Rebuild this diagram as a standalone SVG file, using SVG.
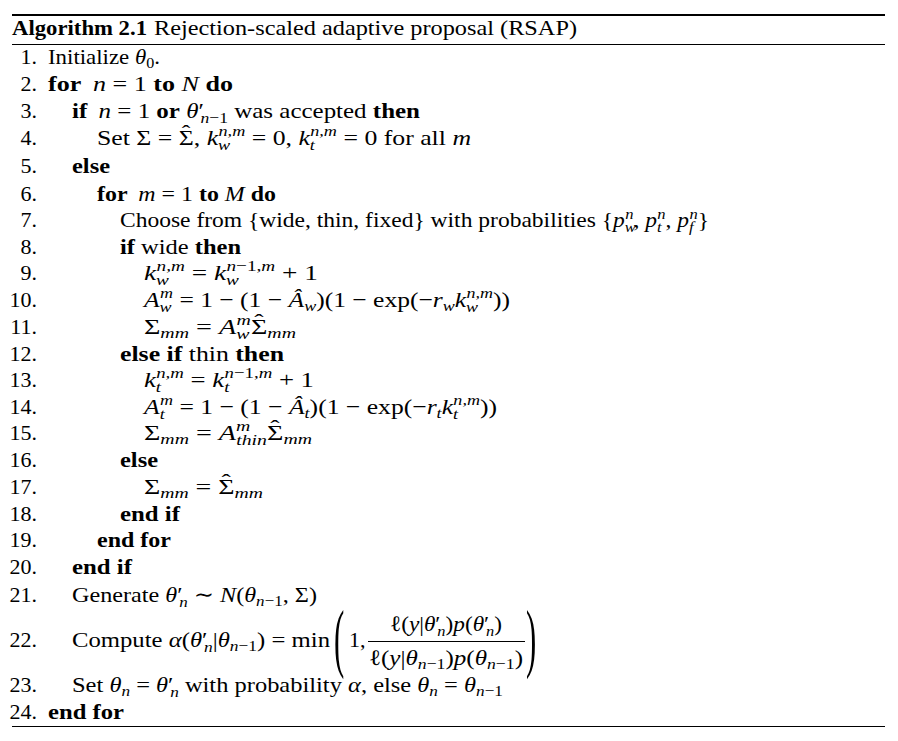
<svg xmlns="http://www.w3.org/2000/svg" width="898" height="741" viewBox="0 0 898 741">
<style>
text{font-family:"Liberation Serif","DejaVu Serif",serif;font-size:22px;fill:#000}
.n{text-anchor:end}
.b{font-weight:bold}
.i{font-style:italic}
.s{font-size:15.5px}
.rule{stroke:#000}
</style>
<rect width="898" height="741" fill="#fff"/>
<g id="rules">
<line class="rule" x1="12" y1="15" x2="885" y2="15" stroke-width="2"/>
<line class="rule" x1="12" y1="44.5" x2="885" y2="44.5" stroke-width="1"/>
<line class="rule" x1="12" y1="726.5" x2="885" y2="726.5" stroke-width="1"/>
</g>
<g id="title">
<text x="12" y="35" class="b" textLength="135" lengthAdjust="spacingAndGlyphs">Algorithm 2.1</text>
<text x="154" y="35" textLength="423" lengthAdjust="spacingAndGlyphs">Rejection-scaled adaptive proposal (RSAP)</text>
</g>
<g id="numbers">
<text class="n" x="37" y="63.5">1.</text>
<text class="n" x="37" y="90.5">2.</text>
<text class="n" x="37" y="117.5">3.</text>
<text class="n" x="37" y="145">4.</text>
<text class="n" x="37" y="173">5.</text>
<text class="n" x="37" y="200.5">6.</text>
<text class="n" x="37" y="227">7.</text>
<text class="n" x="37" y="253.5">8.</text>
<text class="n" x="37" y="280">9.</text>
<text class="n" x="37" y="307">10.</text>
<text class="n" x="37" y="334">11.</text>
<text class="n" x="37" y="360.5">12.</text>
<text class="n" x="37" y="387">13.</text>
<text class="n" x="37" y="413.5">14.</text>
<text class="n" x="37" y="440">15.</text>
<text class="n" x="37" y="467">16.</text>
<text class="n" x="37" y="493.5">17.</text>
<text class="n" x="37" y="520.5">18.</text>
<text class="n" x="37" y="547">19.</text>
<text class="n" x="37" y="574">20.</text>
<text class="n" x="37" y="601.5">21.</text>
<text class="n" x="37" y="646.5">22.</text>
<text class="n" x="37" y="692">23.</text>
<text class="n" x="37" y="718.5">24.</text>
</g>
<g id="lines">
<text id="l1" x="48" y="63.5" textLength="112" lengthAdjust="spacingAndGlyphs">Initialize <tspan class="i">θ</tspan><tspan class="s" baseline-shift="-4">0</tspan>.</text>
<text id="l2" x="48" y="90.5" textLength="185" lengthAdjust="spacingAndGlyphs"><tspan class="b">for</tspan><tspan class="i" dx="10">n</tspan> = 1 <tspan class="b">to</tspan> <tspan class="i">N</tspan> <tspan class="b">do</tspan></text>
<text id="l3" x="72" y="117.5" textLength="348" lengthAdjust="spacingAndGlyphs"><tspan class="b">if</tspan><tspan class="i" dx="10">n</tspan> = 1 <tspan class="b">or</tspan> <tspan class="i">θ</tspan>′<tspan class="s i" dx="-3" baseline-shift="-5">n</tspan><tspan class="s" baseline-shift="-5">−1</tspan> was accepted <tspan class="b">then</tspan></text>
<text id="l4" x="97" y="145" textLength="374" lengthAdjust="spacingAndGlyphs">Set Σ = Σ<tspan dx="-10.2" baseline-shift="5">ˆ</tspan><tspan dx="2.9">, </tspan><tspan class="i">k</tspan><tspan class="s i" baseline-shift="-5">w</tspan><tspan class="s i" dx="-10" baseline-shift="9">n,m</tspan> = 0, <tspan class="i">k</tspan><tspan class="s i" baseline-shift="-5">t</tspan><tspan class="s i" dx="-4" baseline-shift="9">n,m</tspan> = 0 for all <tspan class="i">m</tspan></text>
<text id="l5" x="72" y="173" class="b" textLength="38" lengthAdjust="spacingAndGlyphs">else</text>
<text id="l6" x="97" y="200.5" textLength="179" lengthAdjust="spacingAndGlyphs"><tspan class="b">for</tspan><tspan class="i" dx="10">m</tspan> = 1 <tspan class="b">to</tspan> <tspan class="i">M</tspan> <tspan class="b">do</tspan></text>
<text id="l7" x="120" y="227" textLength="589" lengthAdjust="spacingAndGlyphs">Choose from {wide, thin, fixed} with probabilities {<tspan class="i">p</tspan><tspan class="s i" baseline-shift="-5">w</tspan><tspan class="s i" dx="-10" baseline-shift="8">n</tspan>, <tspan class="i">p</tspan><tspan class="s i" baseline-shift="-5">t</tspan><tspan class="s i" dx="-4" baseline-shift="8">n</tspan>, <tspan class="i">p</tspan><tspan class="s i" baseline-shift="-5">f</tspan><tspan class="s i" dx="-4" baseline-shift="8">n</tspan>}</text>
<text id="l8" x="120" y="253.5" textLength="121" lengthAdjust="spacingAndGlyphs"><tspan class="b">if</tspan> wide <tspan class="b">then</tspan></text>
<text id="l9" x="144" y="280" textLength="174" lengthAdjust="spacingAndGlyphs"><tspan class="i">k</tspan><tspan class="s i" baseline-shift="-5">w</tspan><tspan class="s i" dx="-10" baseline-shift="9">n,m</tspan> = <tspan class="i">k</tspan><tspan class="s i" baseline-shift="-5">w</tspan><tspan class="s i" dx="-10" baseline-shift="9">n</tspan><tspan class="s" baseline-shift="9">−1,</tspan><tspan class="s i" baseline-shift="9">m</tspan> + 1</text>
<text id="l10" x="144" y="307" textLength="366" lengthAdjust="spacingAndGlyphs"><tspan class="i">A</tspan><tspan class="s i" baseline-shift="-5">w</tspan><tspan class="s i" dx="-10" baseline-shift="9">m</tspan> = 1 − (1 − <tspan class="i">Â</tspan><tspan class="s i" baseline-shift="-4">w</tspan>)(1 − exp(−<tspan class="i">r</tspan><tspan class="s i" baseline-shift="-4">w</tspan><tspan class="i">k</tspan><tspan class="s i" baseline-shift="-5">w</tspan><tspan class="s i" dx="-10" baseline-shift="9">n,m</tspan>))</text>
<text id="l11" x="144" y="334" textLength="152" lengthAdjust="spacingAndGlyphs">Σ<tspan class="s i" baseline-shift="-4">mm</tspan> = <tspan class="i">A</tspan><tspan class="s i" baseline-shift="-5">w</tspan><tspan class="s i" dx="-10" baseline-shift="9">m</tspan>Σ<tspan dx="-10.2" baseline-shift="5">ˆ</tspan><tspan class="s i" dx="2.9" baseline-shift="-4">mm</tspan></text>
<text id="l12" x="120" y="360.5" textLength="164" lengthAdjust="spacingAndGlyphs"><tspan class="b">else if</tspan> thin <tspan class="b">then</tspan></text>
<text id="l13" x="144" y="387" textLength="170" lengthAdjust="spacingAndGlyphs"><tspan class="i">k</tspan><tspan class="s i" baseline-shift="-5">t</tspan><tspan class="s i" dx="-4" baseline-shift="9">n,m</tspan> = <tspan class="i">k</tspan><tspan class="s i" baseline-shift="-5">t</tspan><tspan class="s i" dx="-4" baseline-shift="9">n</tspan><tspan class="s" baseline-shift="9">−1,</tspan><tspan class="s i" baseline-shift="9">m</tspan> + 1</text>
<text id="l14" x="144" y="413.5" textLength="353" lengthAdjust="spacingAndGlyphs"><tspan class="i">A</tspan><tspan class="s i" baseline-shift="-5">t</tspan><tspan class="s i" dx="-4" baseline-shift="9">m</tspan> = 1 − (1 − <tspan class="i">Â</tspan><tspan class="s i" baseline-shift="-4">t</tspan>)(1 − exp(−<tspan class="i">r</tspan><tspan class="s i" baseline-shift="-4">t</tspan><tspan class="i">k</tspan><tspan class="s i" baseline-shift="-5">t</tspan><tspan class="s i" dx="-4" baseline-shift="9">n,m</tspan>))</text>
<text id="l15" x="144" y="440" textLength="168" lengthAdjust="spacingAndGlyphs">Σ<tspan class="s i" baseline-shift="-4">mm</tspan> = <tspan class="i">A</tspan><tspan class="s i" baseline-shift="9">m</tspan><tspan class="s i" dx="-11" baseline-shift="-5">thin</tspan>Σ<tspan dx="-10.2" baseline-shift="5">ˆ</tspan><tspan class="s i" dx="2.9" baseline-shift="-4">mm</tspan></text>
<text id="l16" x="120" y="467" class="b" textLength="38" lengthAdjust="spacingAndGlyphs">else</text>
<text id="l17" x="144" y="493.5" textLength="119" lengthAdjust="spacingAndGlyphs">Σ<tspan class="s i" baseline-shift="-4">mm</tspan> = Σ<tspan dx="-10.2" baseline-shift="5">ˆ</tspan><tspan class="s i" dx="2.9" baseline-shift="-4">mm</tspan></text>
<text id="l18" x="120" y="520.5" class="b" textLength="60" lengthAdjust="spacingAndGlyphs">end if</text>
<text id="l19" x="97" y="547" class="b" textLength="74" lengthAdjust="spacingAndGlyphs">end for</text>
<text id="l20" x="72" y="574" class="b" textLength="60" lengthAdjust="spacingAndGlyphs">end if</text>
<text id="l21" x="72" y="601.5" textLength="245" lengthAdjust="spacingAndGlyphs">Generate <tspan class="i">θ</tspan>′<tspan class="s i" dx="-3" baseline-shift="-5">n</tspan> ∼ <tspan class="i">N</tspan>(<tspan class="i">θ</tspan><tspan class="s i" baseline-shift="-4">n</tspan><tspan class="s" baseline-shift="-4">−1</tspan>, Σ)</text>
<text id="l22" x="72" y="646.5" textLength="258" lengthAdjust="spacingAndGlyphs">Compute <tspan class="i">α</tspan>(<tspan class="i">θ</tspan>′<tspan class="s i" dx="-3" baseline-shift="-5">n</tspan>|<tspan class="i">θ</tspan><tspan class="s i" baseline-shift="-4">n</tspan><tspan class="s" baseline-shift="-4">−1</tspan>) = min</text>
<text transform="translate(334,663) scale(1.4,3.5)">(</text>
<text x="349" y="646.5">1,</text>
<text x="446" y="631" text-anchor="middle" textLength="112" lengthAdjust="spacingAndGlyphs">ℓ(<tspan class="i">y</tspan>|<tspan class="i">θ</tspan>′<tspan class="s i" dx="-3" baseline-shift="-5">n</tspan>)<tspan class="i">p</tspan>(<tspan class="i">θ</tspan>′<tspan class="s i" dx="-3" baseline-shift="-5">n</tspan>)</text>
<line class="rule" x1="368" y1="641.5" x2="525" y2="641.5" stroke-width="1"/>
<text x="446" y="664.5" text-anchor="middle" textLength="154" lengthAdjust="spacingAndGlyphs">ℓ(<tspan class="i">y</tspan>|<tspan class="i">θ</tspan><tspan class="s i" baseline-shift="-4">n</tspan><tspan class="s" baseline-shift="-4">−1</tspan>)<tspan class="i">p</tspan>(<tspan class="i">θ</tspan><tspan class="s i" baseline-shift="-4">n</tspan><tspan class="s" baseline-shift="-4">−1</tspan>)</text>
<text transform="translate(526,663) scale(1.4,3.5)">)</text>
<text id="l23" x="72" y="692" textLength="431" lengthAdjust="spacingAndGlyphs">Set <tspan class="i">θ</tspan><tspan class="s i" baseline-shift="-4">n</tspan> = <tspan class="i">θ</tspan>′<tspan class="s i" dx="-3" baseline-shift="-5">n</tspan> with probability <tspan class="i">α</tspan>, else <tspan class="i">θ</tspan><tspan class="s i" baseline-shift="-4">n</tspan> = <tspan class="i">θ</tspan><tspan class="s i" baseline-shift="-4">n</tspan><tspan class="s" baseline-shift="-4">−1</tspan></text>
<text id="l24" x="48" y="718.5" class="b" textLength="76" lengthAdjust="spacingAndGlyphs">end for</text>
</g>
</svg>
